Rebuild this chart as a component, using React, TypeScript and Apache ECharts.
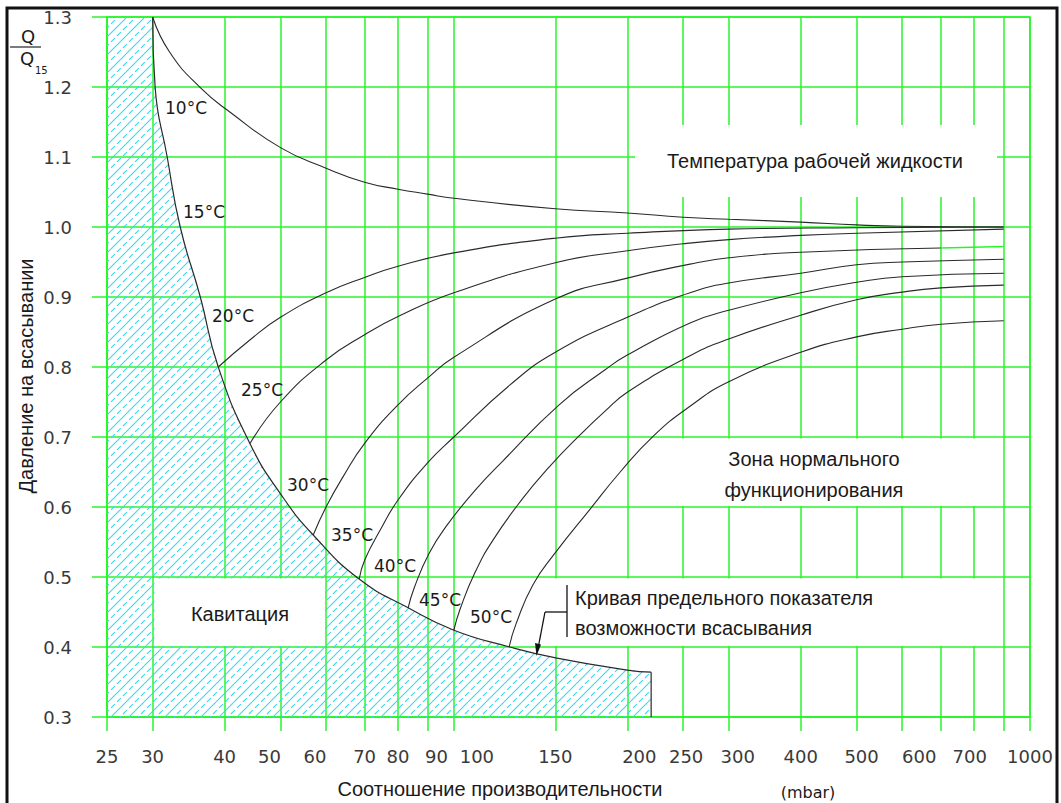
import React, { useEffect, useRef } from 'react';
import * as echarts from 'echarts';

// ---------- data ----------
const xGridValues = [25, 30, 40, 50, 60, 70, 80, 90, 100, 150, 200, 250, 300, 400, 500, 600, 700, 800, 900, 1000];
const xTickLabels = [25, 30, 40, 50, 60, 70, 80, 90, 100, 150, 200, 250, 300, 400, 500, 600, 700, 1000];
const yMin = 0.3;
const yMax = 1.3;
const yStep = 0.1;

// cavitation limit curve
const limitCurve: [number, number][] = [
  [30, 1.3], [30.3, 1.2], [31.8, 1.1], [33.5, 1.0], [36.3, 0.9], [39, 0.8], [44.3, 0.69],
  [50.3, 0.616], [57, 0.56], [68.5, 0.497], [83.3, 0.456], [100, 0.424], [125, 0.4],
  [151, 0.384], [200, 0.367], [220, 0.364],
];
const limitDrop: [number, number][] = [[220, 0.364], [220, 0.3]];
const hatchCorner: [number, number][] = [[25, 1.3]];

const t10: [number, number][] = [
  [30, 1.3], [32.1, 1.25], [36.3, 1.199], [40.9, 1.164], [50.1, 1.113], [60, 1.084], [70, 1.064],
  [80, 1.054], [90, 1.047], [100, 1.041], [150, 1.026], [200, 1.02], [250, 1.014], [300, 1.011],
  [400, 1.007], [500, 1.003], [600, 1.001], [900, 1.0],
];
const t20: [number, number][] = [
  [39, 0.8], [44.3, 0.839], [50, 0.871], [60, 0.906], [70, 0.928], [80, 0.944], [100, 0.963],
  [150, 0.984], [200, 0.991], [300, 0.997], [500, 0.999], [900, 1.0],
];
const t25: [number, number][] = [
  [44.3, 0.691], [50, 0.75], [60, 0.81], [70, 0.846], [80, 0.872], [100, 0.906], [150, 0.949],
  [200, 0.966], [250, 0.976], [300, 0.982], [400, 0.988], [500, 0.991], [900, 0.997],
];
const t30: [number, number][] = [
  [57, 0.56], [60, 0.6], [64.2, 0.643], [70, 0.691], [80, 0.746], [90, 0.784], [100, 0.814],
  [150, 0.897], [200, 0.927], [257, 0.947], [300, 0.956], [400, 0.964], [700, 0.97],
];
const t35: [number, number][] = [
  [68.5, 0.497], [70, 0.524], [74.5, 0.567], [80, 0.61], [90, 0.663], [100, 0.7], [125, 0.774],
  [150, 0.821], [200, 0.871], [257, 0.906], [300, 0.92], [400, 0.934], [500, 0.946], [600, 0.95], [900, 0.954],
];
const t40: [number, number][] = [
  [83.3, 0.456], [85.3, 0.484], [90.6, 0.534], [97.3, 0.574], [109.7, 0.627], [121.7, 0.666],
  [152.3, 0.746], [183, 0.796], [200, 0.817], [257, 0.863], [300, 0.881], [400, 0.906], [500, 0.921],
  [600, 0.929], [900, 0.934],
];
const t45: [number, number][] = [
  [100, 0.424], [102.5, 0.454], [108.9, 0.507], [117, 0.553], [131.9, 0.613], [146.3, 0.657],
  [165.6, 0.703], [183, 0.737], [200, 0.764], [257, 0.816], [300, 0.84], [400, 0.874], [500, 0.896],
  [600, 0.907], [700, 0.913], [900, 0.917],
];
const t50: [number, number][] = [
  [124.7, 0.4], [128.2, 0.433], [137.2, 0.489], [149.8, 0.534], [172.4, 0.597], [194.4, 0.65],
  [221.7, 0.701], [257, 0.744], [300, 0.779], [400, 0.821], [500, 0.843], [600, 0.854], [700, 0.861], [900, 0.866],
];
const greenStub: [number, number][] = [[700, 0.97], [900, 0.972]];

const tempCurves = [t10, t20, t25, t30, t35, t40, t45, t50];
const tempLabels = ['10°C', '15°C', '20°C', '25°C', '30°C', '35°C', '40°C', '45°C', '50°C'];

// ---------- styles ----------
const GREEN = '#2af52a';
const HATCH = '#38d8f0';
const CURVE = '#2a2a2a';
const ISO = '"DejaVu Sans", sans-serif';
const SANS = '"Liberation Sans", Arial, sans-serif';

// label offsets (px) as drawn in the reference
const labelShift: Record<number, number> = { 50: -11, 60: -11, 90: 9, 100: 23, 200: 12, 250: 3, 300: 9, 500: 5, 600: 17, 700: 29 };

function makeHatch(): HTMLCanvasElement {
  const T = 18;
  const c = document.createElement('canvas');
  c.width = T;
  c.height = T;
  const g = c.getContext('2d')!;
  g.strokeStyle = HATCH;
  g.lineWidth = 1.1;
  for (const o of [-T, 0, T]) {
    g.beginPath();
    g.moveTo(o, T);
    g.lineTo(o + T, 0);
    g.stroke();
  }
  g.setLineDash([5.5, 3]);
  for (const o of [-T / 2, T / 2]) {
    g.beginPath();
    g.moveTo(o, T);
    g.lineTo(o + T, 0);
    g.stroke();
  }
  return c;
}

export default function App() {
  const ref = useRef<HTMLDivElement>(null);

  useEffect(() => {
    if (!ref.current) return;
    const chart = echarts.init(ref.current, undefined, { renderer: 'svg' });
    const hatchImg = makeHatch();

    const lineBase = {
      type: 'line',
      symbol: 'none',
      smooth: 0.5,
      silent: true,
      z: 3,
    };

    const series: any[] = [
      {
        ...lineBase,
        name: 'hatch',
        data: [...hatchCorner, ...limitCurve],
        lineStyle: { width: 0, opacity: 0 },
        areaStyle: {
          origin: 'start',
          opacity: 1,
          color: { image: hatchImg, repeat: 'repeat', imageWidth: 18, imageHeight: 18 } as any,
        },
        z: 1,
      },
      { ...lineBase, name: 'limit', data: limitCurve, lineStyle: { color: CURVE, width: 1.2 } },
      { ...lineBase, name: 'limitDrop', smooth: false, data: limitDrop, lineStyle: { color: CURVE, width: 1.2 } },
      ...tempCurves.map((d, i) => ({
        ...lineBase,
        name: 'curve' + i,
        data: d,
        lineStyle: { color: CURVE, width: 1.1 },
      })),
      { ...lineBase, name: 'stub', smooth: false, data: greenStub, lineStyle: { color: GREEN, width: 1.5 }, z: 2 },
    ];

    const labelPos: [number, number][] = [
      [186, 108], [204, 212], [233, 316], [262, 390], [308, 485], [352, 535], [395, 566], [440, 600], [491, 617],
    ];

    const whiteBox = (x: number, y: number, w: number, h: number) => ({
      type: 'rect',
      shape: { x, y, width: w, height: h },
      style: { fill: '#ffffff' },
      z: 20,
      silent: true,
    });
    const txt = (text: string, x: number, y: number, font: string, align = 'center', extra: any = {}) => ({
      type: 'text',
      x,
      y,
      z: 30,
      silent: true,
      ...extra,
      style: { text, font, fill: '#1a1a1a', align, verticalAlign: 'middle' },
    });
    const blk = (x1: number, y1: number, x2: number, y2: number) => ({
      type: 'line',
      shape: { x1, y1, x2, y2 },
      style: { stroke: '#111', lineWidth: 1.3 },
      z: 30,
      silent: true,
    });

    const graphics: any[] = [
      // outer frame
      { type: 'rect', shape: { x: 7, y: 8, width: 1050, height: 810 }, style: { fill: 'none', stroke: '#111', lineWidth: 3 }, z: 40, silent: true },
      // white boxes for texts
      whiteBox(154.5, 578.5, 170.5, 67.5),
      whiteBox(635, 125, 362, 72),
      whiteBox(655, 438.5, 347.5, 67.5),
      whiteBox(551, 578.5, 451.5, 67.5),
      // region texts
      txt('Кавитация', 240, 614, `20px ${SANS}`),
      txt('Температура рабочей жидкости', 815, 161, `20px ${SANS}`),
      txt('Зона нормального', 814, 459, `20px ${SANS}`),
      txt('функционирования', 814, 490, `20px ${SANS}`),
      txt('Кривая предельного показателя', 575, 598, `20px ${SANS}`, 'left'),
      txt('возможности всасывания', 575, 628, `20px ${SANS}`, 'left'),
      // leader
      blk(567, 585, 567, 637),
      blk(545, 612, 567, 612),
      blk(545, 612, 538.5, 646),
      {
        type: 'polygon',
        shape: { points: [[535, 643], [541, 644.5], [536.5, 656]] },
        style: { fill: '#111' },
        z: 30,
        silent: true,
      },
      // temperature labels
      ...tempLabels.map((t, i) => txt(t, labelPos[i][0], labelPos[i][1], `17px ${ISO}`, 'center')),
      // axis titles
      txt('Давление на всасывании', 26, 376, `20px ${SANS}`, 'center', { rotation: Math.PI / 2 }),
      txt('Соотношение производительности', 500, 789, `20px ${SANS}`),
      txt('(mbar)', 808, 792, `16px ${ISO}`),
      // Q / Q15
      txt('Q', 28, 36, `18px ${ISO}`),
      { type: 'line', shape: { x1: 10, y1: 47, x2: 41, y2: 47 }, style: { stroke: '#333', lineWidth: 1.3 }, z: 30, silent: true },
      txt('Q', 27, 58, `18px ${ISO}`),
      txt('15', 35, 70, `10px ${ISO}`, 'left'),
    ];

    const rich: Record<string, any> = {};
    Object.keys(labelShift).forEach((k) => {
      const s = labelShift[Number(k)];
      rich['s' + k] = {
        color: '#3a3a3a',
        fontFamily: ISO,
        fontSize: 18,
        padding: s > 0 ? [0, 0, 0, 2 * s] : [0, -2 * s, 0, 0],
      };
    });

    chart.setOption({
      animation: false,
      backgroundColor: '#ffffff',
      grid: {
        left: 107,
        right: 31,
        top: 17,
        bottom: 86,
        show: true,
        borderColor: GREEN,
        borderWidth: 1.5,
        backgroundColor: 'transparent',
      },
      xAxis: {
        type: 'log',
        logBase: 10,
        min: 25,
        max: 1000,
        axisLine: { show: true, lineStyle: { color: GREEN, width: 1.5 } },
        axisTick: {
          show: true,
          inside: false,
          length: 14,
          customValues: xGridValues,
          lineStyle: { color: GREEN, width: 1.5 },
        },
        axisLabel: {
          show: true,
          customValues: xTickLabels,
          margin: 30,
          color: '#3a3a3a',
          fontFamily: ISO,
          fontSize: 18,
          rich,
          formatter: (v: number) => {
            const r = Math.round(v);
            return labelShift[r] !== undefined ? `{s${r}|${r}}` : String(r);
          },
        },
        splitLine: { show: true, lineStyle: { color: GREEN, width: 1.5 } },
        minorTick: { show: false },
        minorSplitLine: { show: false },
      },
      yAxis: {
        type: 'value',
        min: yMin,
        max: yMax,
        interval: yStep,
        axisLine: { show: true, lineStyle: { color: GREEN, width: 1.5 } },
        axisTick: { show: true, inside: false, length: 15, lineStyle: { color: GREEN, width: 1.5 } },
        axisLabel: {
          margin: 35,
          color: '#3a3a3a',
          fontFamily: ISO,
          fontSize: 18,
          formatter: (v: number) => v.toFixed(1),
        },
        splitLine: { show: true, lineStyle: { color: GREEN, width: 1.5 } },
      },
      series,
      graphic: { elements: graphics },
    });

    return () => chart.dispose();
  }, []);

  return (
    <div
      ref={ref}
      style={{ position: 'fixed', left: 0, top: 0, width: 1061, height: 803, background: '#fff' }}
    />
  );
}
